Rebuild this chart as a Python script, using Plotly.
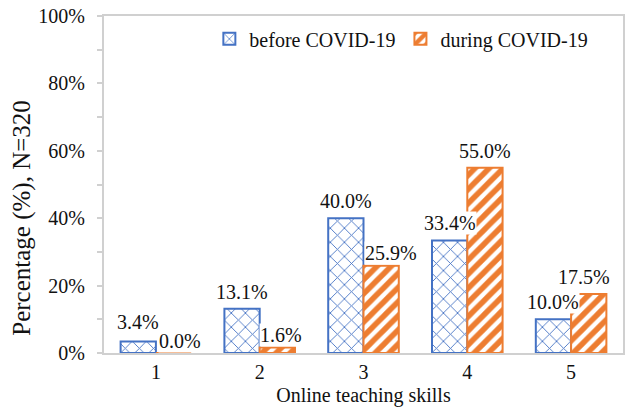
"""Online teaching skills before / during COVID-19 — grouped bar chart."""
import plotly.graph_objects as go

# --- Data ------------------------------------------------------------------ #
skills = ["1", "2", "3", "4", "5"]
before_covid = [3.4, 13.1, 40.0, 33.4, 10.0]
during_covid = [0.0, 1.6, 25.9, 55.0, 17.5]
y_ticks = [0, 20, 40, 60, 80, 100]

BLUE = "#4472C4"
ORANGE = "#ED7D31"
AXIS = "#D0D0D0"
TEXT = "#111111"
FONT = "Liberation Serif"

# Small manual nudges of data labels (px), as in the Excel original.
before_nudge = [(0, 3), (0, 0), (0, 0), (0, 0), (0, 0)]
during_nudge = [(6, -5), (4, -4), (10, -4), (0, 0), (-5, 0)]

fig = go.Figure()
fig.add_trace(go.Bar(
    x=skills, y=before_covid, name="before COVID-19",
    marker=dict(color="white", line=dict(color=BLUE, width=2),
                pattern=dict(shape="x", fgcolor=BLUE, bgcolor="white",
                             fgopacity=1, size=10, solidity=0.17)),
))
fig.add_trace(go.Bar(
    x=skills, y=during_covid, name="during COVID-19",
    marker=dict(color="white", line=dict(color=ORANGE, width=2),
                pattern=dict(shape="/", fgcolor=ORANGE, bgcolor="white",
                             fgopacity=1, size=10, solidity=0.55)),
))

# Data labels with white boxes (they overlap neighbouring bars in the original).
half = 0.17
for series, nudges, off in ((before_covid, before_nudge, -half),
                            (during_covid, during_nudge, half)):
    for i, v in enumerate(series):
        dx, dy = nudges[i]
        fig.add_annotation(
            x=i + off, y=v, xref="x", yref="y", text=f"{v:.1f}%",
            showarrow=False, yanchor="bottom", xanchor="center",
            xshift=dx, yshift=5 + dy, bgcolor="white", borderpad=0,
            font=dict(family=FONT, size=20, color=TEXT),
        )

# Y axis title placed manually (sits lower than the plot centre in the original).
fig.add_annotation(
    text="Percentage (%), N=320", xref="paper", yref="paper",
    x=-0.157, y=0.40, textangle=-90, showarrow=False,
    xanchor="center", yanchor="middle",
    font=dict(family=FONT, size=25, color=TEXT),
)

fig.update_layout(
    width=630, height=416,
    margin=dict(l=104, r=7, t=16, b=63, autoexpand=False),
    paper_bgcolor="white", plot_bgcolor="white",
    barmode="group", bargap=0.32, bargroupgap=0,
    font=dict(family=FONT, size=20, color=TEXT),
    showlegend=True,
    legend=dict(orientation="h", x=0.203, y=0.99, xanchor="left", yanchor="top",
                bgcolor="rgba(0,0,0,0)", font=dict(family=FONT, size=20),
                itemwidth=30, traceorder="normal"),
)
fig.update_xaxes(
    type="category", showline=True, linecolor=AXIS, linewidth=2, mirror=True,
    ticks="", showgrid=False, automargin=False,
    title=dict(text="Online teaching skills", standoff=6,
               font=dict(family=FONT, size=20, color=TEXT)),
    tickfont=dict(family=FONT, size=20),
)
fig.update_yaxes(
    range=[0, 100], tickvals=y_ticks, ticktext=[f"{t}%" for t in y_ticks],
    showline=True, linecolor=AXIS, linewidth=2, mirror=True,
    ticks="outside", ticklen=5, tickcolor=AXIS, tickwidth=2,
    minor=dict(dtick=10, ticks="outside", ticklen=5, tickcolor=AXIS, tickwidth=2),
    showgrid=False, zeroline=False, automargin=False,
    tickfont=dict(family=FONT, size=20), ticklabelstandoff=8,
)

# page body has a default 8px margin; drop it so the figure sits at (0, 0)
fig.write_html("out.html", config={"displayModeBar": False},
               post_script="document.body.style.margin='0';")
